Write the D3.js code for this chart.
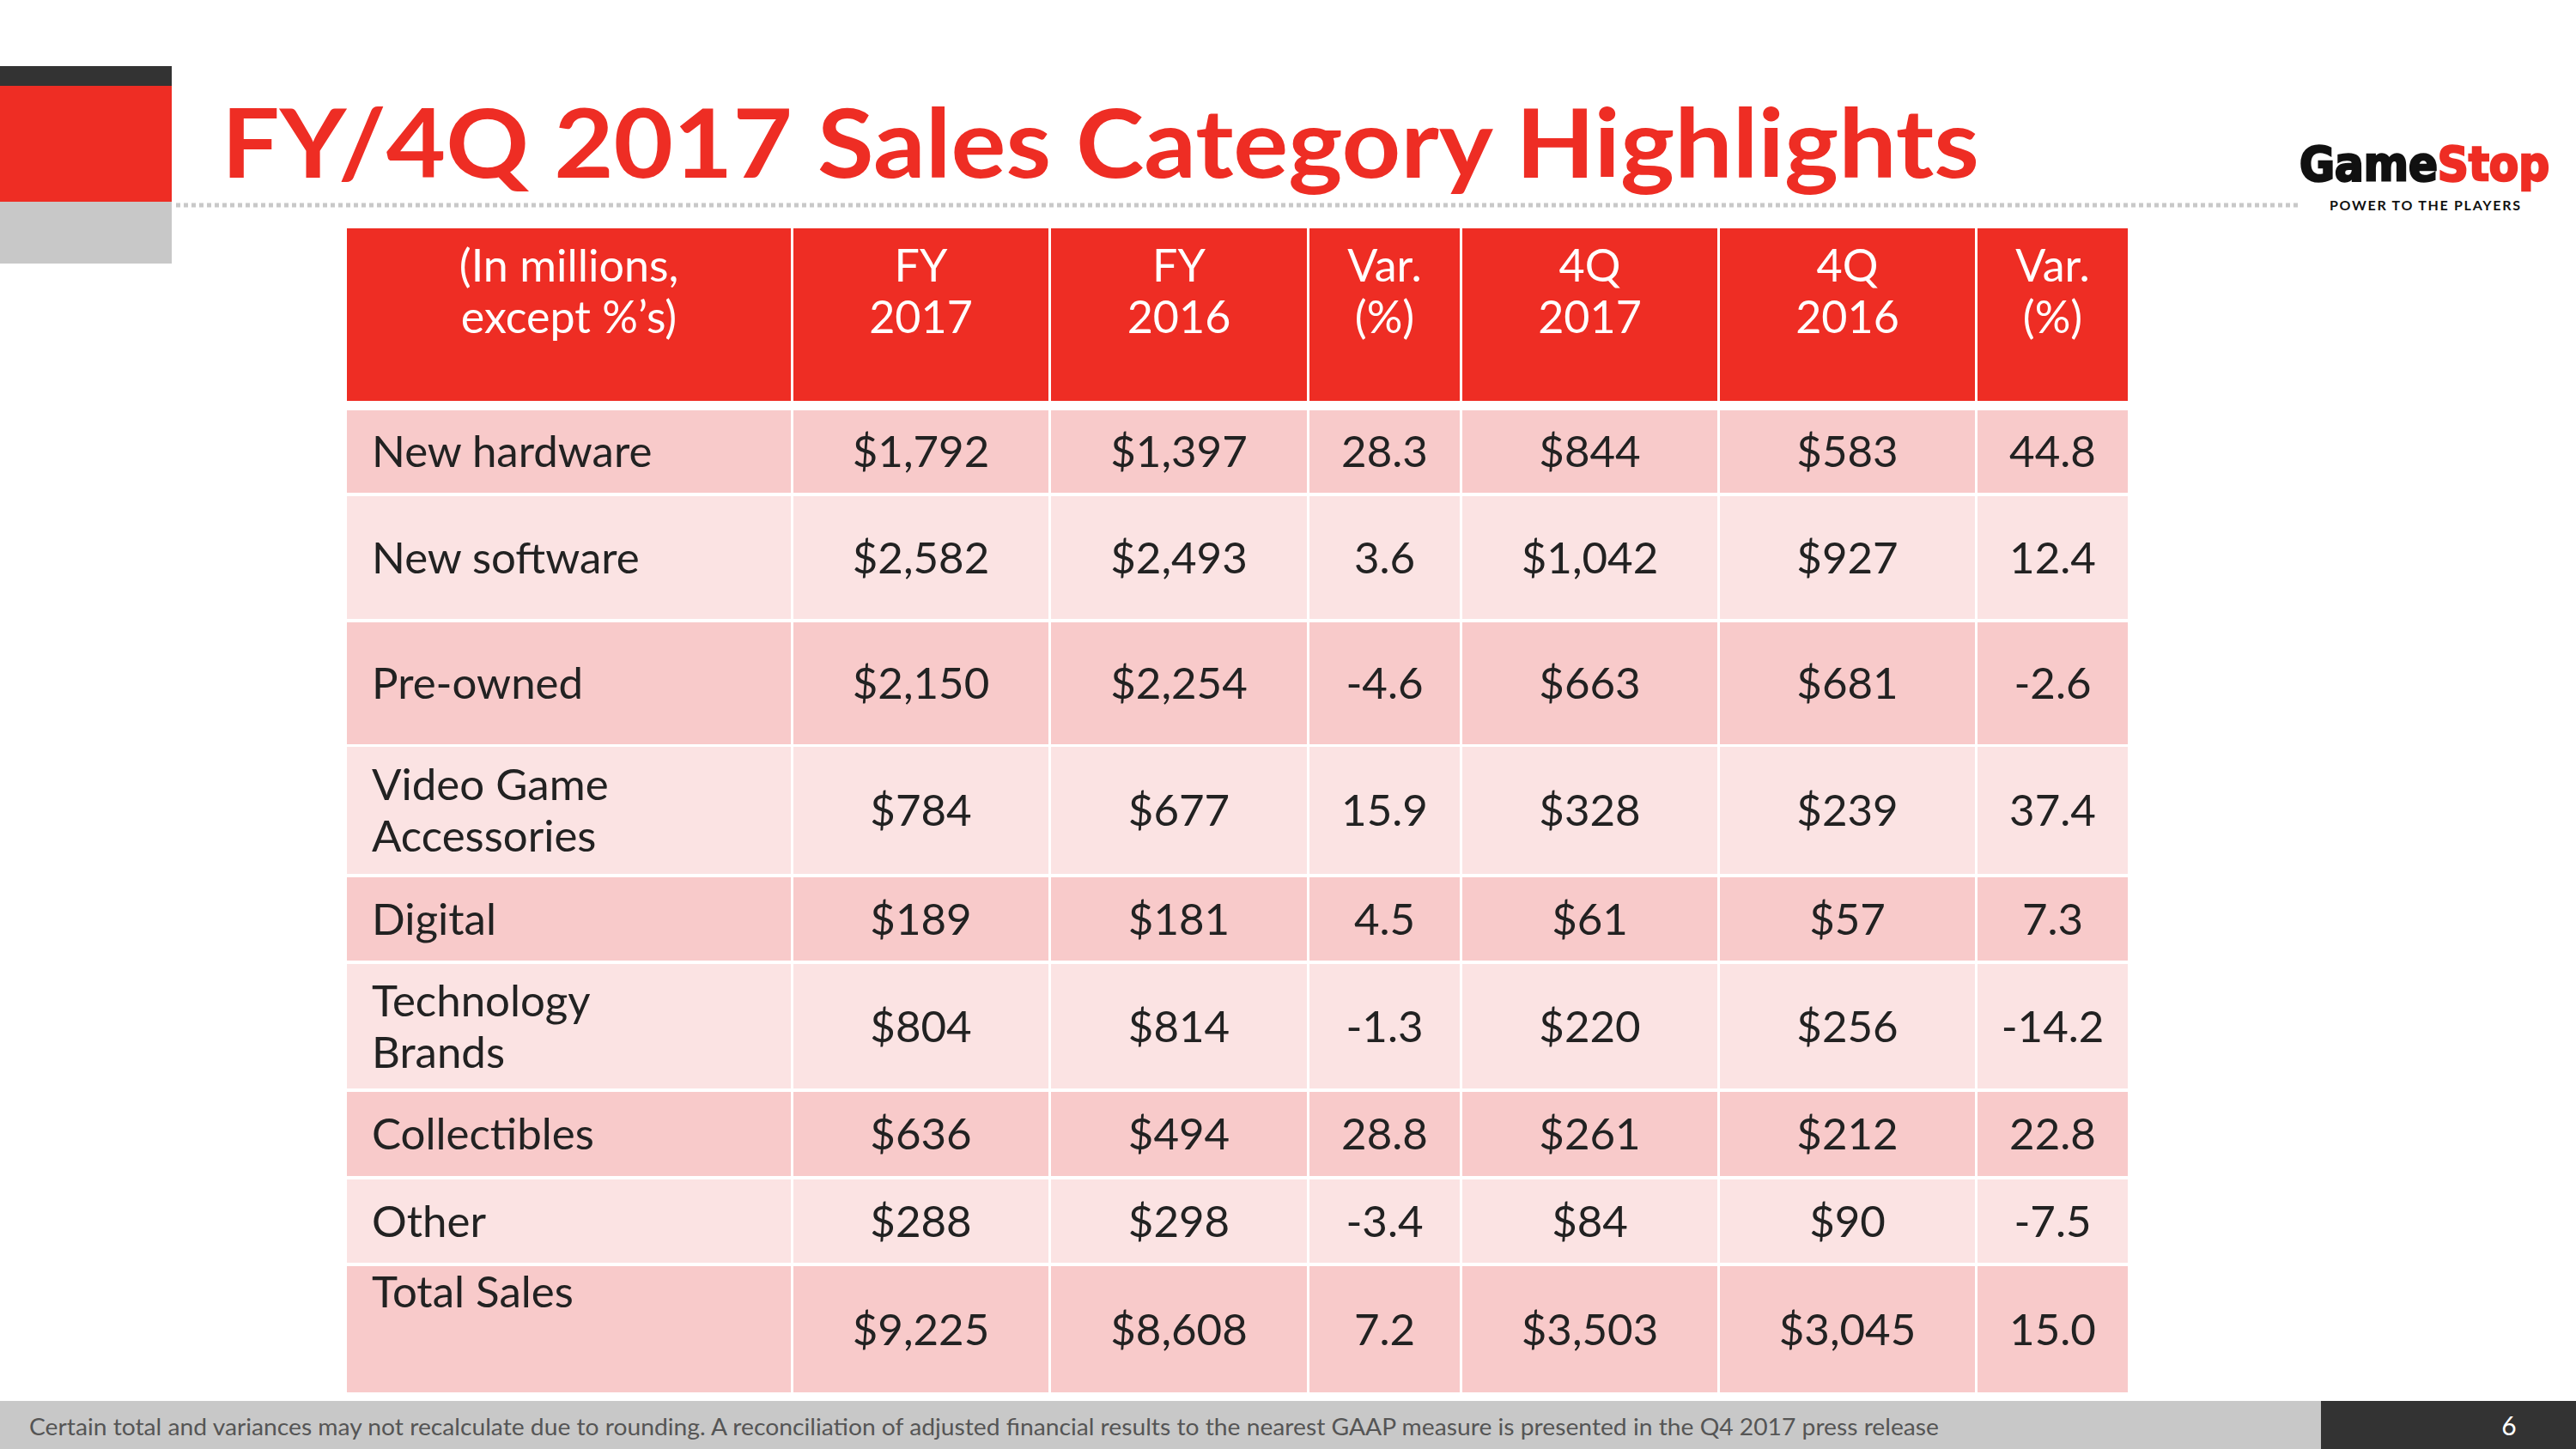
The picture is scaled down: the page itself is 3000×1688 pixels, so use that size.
<!DOCTYPE html>
<html><head><meta charset="utf-8">
<script src="https://cdn.jsdelivr.net/npm/d3@7"></script>
<style>body{margin:0;background:#fff}svg{display:block}</style>
</head><body>
<script>
const title = "FY/4Q 2017 Sales Category Highlights";
const headers = [["(In millions,","except %’s)"],["FY","2017"],["FY","2016"],["Var.","(%)"],["4Q","2017"],["4Q","2016"],["Var.","(%)"]];
const categories = [["New hardware"],["New software"],["Pre-owned"],["Video Game","Accessories"],["Digital"],["Technology","Brands"],["Collectibles"],["Other"],["Total Sales"]];
const fy2017 = ["$1,792","$2,582","$2,150","$784","$189","$804","$636","$288","$9,225"];
const fy2016 = ["$1,397","$2,493","$2,254","$677","$181","$814","$494","$298","$8,608"];
const fyVar = ["28.3","3.6","-4.6","15.9","4.5","-1.3","28.8","-3.4","7.2"];
const q2017 = ["$844","$1,042","$663","$328","$61","$220","$261","$84","$3,503"];
const q2016 = ["$583","$927","$681","$239","$57","$256","$212","$90","$3,045"];
const qVar = ["44.8","12.4","-2.6","37.4","7.3","-14.2","22.8","-7.5","15.0"];
const footnote = "Certain total and variances may not recalculate due to rounding. A reconciliation of adjusted financial results to the nearest GAAP measure is presented in the Q4 2017 press release";
const pageNo = "6";

const W=3000,H=1688, RED="#ee2d24";
const svg=d3.select("body").append("svg").attr("width",W).attr("height",H);
const F="Lato, 'Noto Sans', sans-serif";
// left decoration
svg.append("rect").attr("x",0).attr("y",77).attr("width",200).attr("height",23).attr("fill","#333");
svg.append("rect").attr("x",0).attr("y",100).attr("width",200).attr("height",135).attr("fill",RED);
svg.append("rect").attr("x",0).attr("y",235).attr("width",200).attr("height",72).attr("fill","#c8c8c8");
// title
svg.append("text").attr("x",258).attr("y",207).attr("font-family",F).attr("font-weight",700)
  .attr("font-size",112).attr("fill",RED).attr("textLength",2047).attr("lengthAdjust","spacingAndGlyphs").text(title);
// dotted line
svg.append("line").attr("x1",205).attr("x2",2680).attr("y1",239).attr("y2",239)
  .attr("stroke","#c8c8c8").attr("stroke-width",5).attr("stroke-dasharray","5 4");
// logo
const lg=svg.append("text").attr("x",2678).attr("y",210).attr("font-family","'Liberation Sans Narrow', 'DejaVu Sans Condensed', sans-serif")
  .attr("font-weight",700).attr("font-size",56).attr("textLength",291).attr("lengthAdjust","spacingAndGlyphs")
  .attr("stroke-width",2.5);
lg.append("tspan").attr("fill","#111").attr("stroke","#111").text("Game");
lg.append("tspan").attr("fill",RED).attr("stroke",RED).text("Stop");
svg.append("text").attr("x",2713).attr("y",245).attr("font-family",F).attr("font-weight",700).attr("font-size",16)
  .attr("fill","#111").attr("textLength",222).text("POWER TO THE PLAYERS");

// table
const colW=[520,300,301,178,300,300,178];
const colEdges=[0]; colW.forEach(w=>colEdges.push(colEdges[colEdges.length-1]+w));
const x=d3.scaleLinear().domain([0,colEdges[colEdges.length-1]]).range([404,2481]);
const rowEdges=[[266,467],[478,574],[578,721],[725,867],[870,1018],[1022,1119],[1123,1268],[1272,1370],[1374,1471],[1475,1622]];
const cols=[null,fy2017,fy2016,fyVar,q2017,q2016,qVar];
const GAP=3;
// header
headers.forEach((h,c)=>{
  const x0=x(colEdges[c]), x1=x(colEdges[c+1]);
  svg.append("rect").attr("x",x0).attr("y",266).attr("width",x1-x0-GAP).attr("height",201).attr("fill",RED);
  h.forEach((t,i)=>svg.append("text").attr("x",(x0+x1-GAP)/2).attr("y",328+i*60).attr("text-anchor","middle")
    .attr("font-family",F).attr("font-size",52).attr("fill","#fff").text(t));
});
categories.forEach((cat,r)=>{
  const [y0,y1]=rowEdges[r+1];
  const fill = r%2===0?"#f8caca":"#fbe3e3";
  cols.forEach((col,c)=>{
    const x0=x(colEdges[c]), x1=x(colEdges[c+1]);
    svg.append("rect").attr("x",x0).attr("y",y0).attr("width",x1-x0-GAP).attr("height",y1-y0).attr("fill",fill);
    const cy=(y0+y1)/2;
    if(c===0){
      const n=cat.length;
      const top = r===categories.length-1 ? y0+48 : cy-(n-1)*30+18;
      cat.forEach((t,i)=>svg.append("text").attr("x",x0+29).attr("y",top+i*60)
        .attr("font-family",F).attr("font-size",51).attr("fill","#222").text(t));
    } else {
      svg.append("text").attr("x",(x0+x1-GAP)/2).attr("y",cy+18).attr("text-anchor","middle")
        .attr("font-family",F).attr("font-size",51).attr("fill","#222").text(col[r]);
    }
  });
});
// footer
svg.append("rect").attr("x",0).attr("y",1632).attr("width",2703).attr("height",56).attr("fill","#c8c8c8");
svg.append("rect").attr("x",2703).attr("y",1632).attr("width",297).attr("height",56).attr("fill","#333");
svg.append("text").attr("x",34).attr("y",1672).attr("font-family",F).attr("font-size",26).attr("fill","#555")
  .attr("textLength",2224).attr("lengthAdjust","spacingAndGlyphs").text(footnote);
svg.append("text").attr("x",2922).attr("y",1672).attr("text-anchor","middle").attr("font-family",F).attr("font-size",30).attr("fill","#fff").text(pageNo);
</script>
</body></html>
